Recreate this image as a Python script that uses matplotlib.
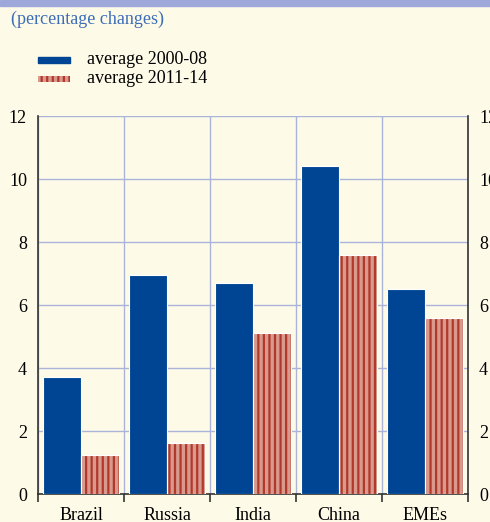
import matplotlib.pyplot as plt
import numpy as np
from matplotlib.patches import Rectangle

plt.rcParams["font.family"] = ["Liberation Serif", "DejaVu Serif"]
plt.rcParams["hatch.linewidth"] = 1.6

countries = ["Brazil", "Russia", "India", "China", "EMEs"]
avg_2000_08 = [3.7, 6.95, 6.7, 10.4, 6.5]
avg_2011_14 = [1.25, 1.63, 5.1, 7.58, 5.6]
yticks = [0, 2, 4, 6, 8, 10, 12]

bg = "#fefae8"
blue = "#004494"
salmon = "#d9998c"
darkred = "#b0392c"
grid_c = "#aab3d9"

fig = plt.figure(figsize=(4.9, 5.22), dpi=100, facecolor=bg)
# lilac band at the top
fig.patches.append(Rectangle((0, 0.988), 1, 0.012, transform=fig.transFigure,
                             color="#9fa8da", zorder=0))
ax = fig.add_axes([0.0776, 0.0536, 0.8775, 0.724], facecolor=bg)

x = np.arange(len(countries))
w = 0.435
ax.bar(x - 0.222, avg_2000_08, w, color=blue, edgecolor="white", linewidth=0.8, zorder=3)
# striped bars: hatch first, white outline on top
ax.bar(x + 0.222, avg_2011_14, w, color=salmon, edgecolor=darkred, hatch="|||",
       linewidth=0, zorder=3)
ax.bar(x + 0.222, avg_2011_14, w, fill=False, edgecolor="white", linewidth=0.8, zorder=4)

ax.set_xlim(-0.5, len(countries) - 0.5)
ax.set_ylim(0, 12)
ax.set_yticks(yticks)
ax.set_xticks(x)
ax.set_xticklabels(countries, fontsize=13)
ax.set_xticks(np.arange(-0.5, len(countries)), minor=True)
ax.tick_params(axis="x", which="major", length=0, pad=9)
ax.tick_params(axis="x", which="minor", direction="out", length=6, width=1.2, color="#333333")
ax.tick_params(axis="y", length=0, labelsize=13, labelright=True, pad=8)
ax.yaxis.grid(True, color=grid_c, linewidth=1, zorder=0)
ax.xaxis.grid(True, which="minor", color=grid_c, linewidth=1, zorder=0)
ax.set_axisbelow(True)

for s in ["left", "right", "bottom"]:
    ax.spines[s].set_color("#333333")
    ax.spines[s].set_linewidth(1.2)
ax.spines["top"].set_visible(False)

fig.text(0.022, 0.962, "(percentage changes)", color="#3b6db8", fontsize=13, va="center")

# legend drawn by hand
fig.patches.append(Rectangle((38 / 490, 1 - 63 / 522), 32 / 490, 6 / 522,
                             transform=fig.transFigure, color=blue))
fig.patches.append(Rectangle((38 / 490, 1 - 82 / 522), 32 / 490, 6 / 522,
                             transform=fig.transFigure, facecolor=salmon,
                             edgecolor=darkred, hatch="|||", linewidth=0))
fig.text(87 / 490, 1 - 60 / 522, "average 2000-08", fontsize=13, va="center")
fig.text(87 / 490, 1 - 79 / 522, "average 2011-14", fontsize=13, va="center")

fig.savefig("out.png", dpi=100, facecolor=bg)
